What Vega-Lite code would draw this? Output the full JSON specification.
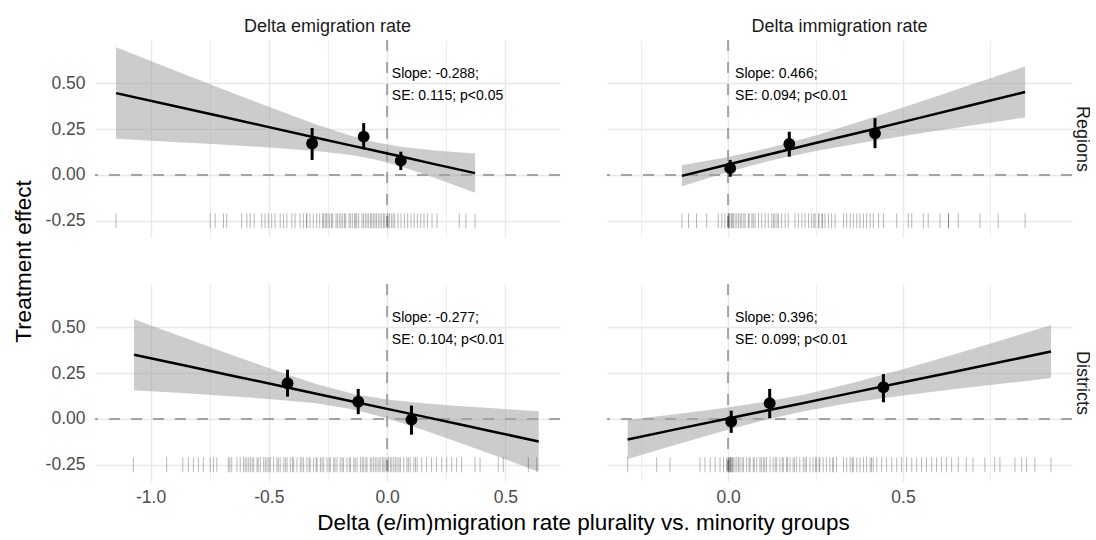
{
"$schema": "https://vega.github.io/schema/vega-lite/v6.json",
"padding": {"left": 12, "top": 18, "right": 0, "bottom": 2},
"datasets": {
"band": [
{"p":"ER","x":-1.146,"lo":0.197,"hi":0.697,"fit":0.447},
{"p":"ER","x":-0.9,"lo":0.180,"hi":0.572,"fit":0.376},
{"p":"ER","x":-0.7,"lo":0.166,"hi":0.471,"fit":0.319},
{"p":"ER","x":-0.5,"lo":0.150,"hi":0.372,"fit":0.261},
{"p":"ER","x":-0.3,"lo":0.131,"hi":0.276,"fit":0.203},
{"p":"ER","x":-0.15,"lo":0.109,"hi":0.212,"fit":0.160},
{"p":"ER","x":-0.055,"lo":0.086,"hi":0.180,"fit":0.133},
{"p":"ER","x":0.05,"lo":0.050,"hi":0.155,"fit":0.103},
{"p":"ER","x":0.2,"lo":-0.015,"hi":0.134,"fit":0.059},
{"p":"ER","x":0.372,"lo":-0.097,"hi":0.117,"fit":0.010},
{"p":"IR","x":-0.132,"lo":-0.062,"hi":0.053,"fit":-0.005},
{"p":"IR","x":0.0,"lo":0.016,"hi":0.098,"fit":0.057},
{"p":"IR","x":0.119,"lo":0.078,"hi":0.148,"fit":0.113},
{"p":"IR","x":0.25,"lo":0.131,"hi":0.216,"fit":0.174},
{"p":"IR","x":0.4,"lo":0.181,"hi":0.306,"fit":0.243},
{"p":"IR","x":0.55,"lo":0.227,"hi":0.400,"fit":0.313},
{"p":"IR","x":0.7,"lo":0.271,"hi":0.496,"fit":0.383},
{"p":"IR","x":0.849,"lo":0.314,"hi":0.592,"fit":0.453},
{"p":"ED","x":-1.07,"lo":0.157,"hi":0.545,"fit":0.351},
{"p":"ED","x":-0.85,"lo":0.140,"hi":0.441,"fit":0.291},
{"p":"ED","x":-0.65,"lo":0.123,"hi":0.347,"fit":0.235},
{"p":"ED","x":-0.45,"lo":0.104,"hi":0.255,"fit":0.180},
{"p":"ED","x":-0.3,"lo":0.085,"hi":0.191,"fit":0.138},
{"p":"ED","x":-0.141,"lo":0.052,"hi":0.136,"fit":0.094},
{"p":"ED","x":0.0,"lo":0.004,"hi":0.106,"fit":0.055},
{"p":"ED","x":0.15,"lo":-0.059,"hi":0.086,"fit":0.014},
{"p":"ED","x":0.3,"lo":-0.127,"hi":0.071,"fit":-0.028},
{"p":"ED","x":0.45,"lo":-0.197,"hi":0.058,"fit":-0.070},
{"p":"ED","x":0.641,"lo":-0.288,"hi":0.042,"fit":-0.123},
{"p":"ID","x":-0.287,"lo":-0.219,"hi":-0.005,"fit":-0.112},
{"p":"ID","x":-0.15,"lo":-0.141,"hi":0.026,"fit":-0.057},
{"p":"ID","x":0.0,"lo":-0.059,"hi":0.063,"fit":0.002},
{"p":"ID","x":0.1,"lo":-0.008,"hi":0.092,"fit":0.042},
{"p":"ID","x":0.213,"lo":0.041,"hi":0.131,"fit":0.086},
{"p":"ID","x":0.35,"lo":0.088,"hi":0.193,"fit":0.141},
{"p":"ID","x":0.5,"lo":0.128,"hi":0.272,"fit":0.200},
{"p":"ID","x":0.65,"lo":0.163,"hi":0.355,"fit":0.259},
{"p":"ID","x":0.8,"lo":0.196,"hi":0.441,"fit":0.319},
{"p":"ID","x":0.923,"lo":0.223,"hi":0.512,"fit":0.368}
],
"pts": [
{"p":"ER","x":-0.317,"y":0.172,"lo":0.082,"hi":0.256},
{"p":"ER","x":-0.099,"y":0.209,"lo":0.140,"hi":0.283},
{"p":"ER","x":0.058,"y":0.078,"lo":0.027,"hi":0.127},
{"p":"IR","x":0.006,"y":0.037,"lo":-0.010,"hi":0.082},
{"p":"IR","x":0.175,"y":0.169,"lo":0.100,"hi":0.236},
{"p":"IR","x":0.42,"y":0.227,"lo":0.146,"hi":0.310},
{"p":"ED","x":-0.421,"y":0.195,"lo":0.122,"hi":0.269},
{"p":"ED","x":-0.122,"y":0.094,"lo":0.026,"hi":0.164},
{"p":"ED","x":0.103,"y":-0.004,"lo":-0.086,"hi":0.073},
{"p":"ID","x":0.009,"y":-0.015,"lo":-0.076,"hi":0.045},
{"p":"ID","x":0.119,"y":0.086,"lo":0.004,"hi":0.164},
{"p":"ID","x":0.444,"y":0.173,"lo":0.091,"hi":0.245}
],
"notes": [
{"p":"ER","x":0.02,"y":0.551,"t":"Slope: -0.288;"},
{"p":"ER","x":0.02,"y":0.431,"t":"SE: 0.115; p<0.05"},
{"p":"IR","x":0.02,"y":0.551,"t":"Slope: 0.466;"},
{"p":"IR","x":0.02,"y":0.431,"t":"SE: 0.094; p<0.01"},
{"p":"ED","x":0.02,"y":0.551,"t":"Slope: -0.277;"},
{"p":"ED","x":0.02,"y":0.431,"t":"SE: 0.104; p<0.01"},
{"p":"ID","x":0.02,"y":0.551,"t":"Slope: 0.396;"},
{"p":"ID","x":0.02,"y":0.431,"t":"SE: 0.099; p<0.01"}
],
"rug": [
{"p":"ER","x":-1.146},{"p":"ER","x":-0.748},{"p":"ER","x":-0.727},{"p":"ER","x":-0.692},{"p":"ER","x":-0.678},{"p":"ER","x":-0.615},{"p":"ER","x":-0.593},{"p":"ER","x":-0.579},{"p":"ER","x":-0.562},{"p":"ER","x":-0.530},{"p":"ER","x":-0.516},{"p":"ER","x":-0.502},{"p":"ER","x":-0.488},{"p":"ER","x":-0.474},{"p":"ER","x":-0.452},{"p":"ER","x":-0.438},{"p":"ER","x":-0.424},{"p":"ER","x":-0.403},{"p":"ER","x":-0.389},{"p":"ER","x":-0.368},{"p":"ER","x":-0.354},{"p":"ER","x":-0.340},{"p":"ER","x":-0.340},{"p":"ER","x":-0.326},{"p":"ER","x":-0.312},{"p":"ER","x":-0.298},{"p":"ER","x":-0.285},{"p":"ER","x":-0.271},{"p":"ER","x":-0.271},{"p":"ER","x":-0.262},{"p":"ER","x":-0.257},{"p":"ER","x":-0.250},{"p":"ER","x":-0.243},{"p":"ER","x":-0.235},{"p":"ER","x":-0.230},{"p":"ER","x":-0.216},{"p":"ER","x":-0.210},{"p":"ER","x":-0.202},{"p":"ER","x":-0.195},{"p":"ER","x":-0.188},{"p":"ER","x":-0.180},{"p":"ER","x":-0.175},{"p":"ER","x":-0.161},{"p":"ER","x":-0.155},{"p":"ER","x":-0.147},{"p":"ER","x":-0.138},{"p":"ER","x":-0.133},{"p":"ER","x":-0.128},{"p":"ER","x":-0.120},{"p":"ER","x":-0.106},{"p":"ER","x":-0.100},{"p":"ER","x":-0.092},{"p":"ER","x":-0.085},{"p":"ER","x":-0.078},{"p":"ER","x":-0.070},{"p":"ER","x":-0.065},{"p":"ER","x":-0.058},{"p":"ER","x":-0.051},{"p":"ER","x":-0.045},{"p":"ER","x":-0.037},{"p":"ER","x":-0.030},{"p":"ER","x":-0.023},{"p":"ER","x":-0.015},{"p":"ER","x":-0.010},{"p":"ER","x":0.000},{"p":"ER","x":0.004},{"p":"ER","x":0.010},{"p":"ER","x":0.018},{"p":"ER","x":0.025},{"p":"ER","x":0.032},{"p":"ER","x":0.046},{"p":"ER","x":0.059},{"p":"ER","x":0.073},{"p":"ER","x":0.087},{"p":"ER","x":0.101},{"p":"ER","x":0.114},{"p":"ER","x":0.128},{"p":"ER","x":0.142},{"p":"ER","x":0.156},{"p":"ER","x":0.170},{"p":"ER","x":0.190},{"p":"ER","x":0.211},{"p":"ER","x":0.305},{"p":"ER","x":0.333},{"p":"ER","x":0.372},
{"p":"IR","x":-0.132},{"p":"IR","x":-0.113},{"p":"IR","x":-0.090},{"p":"IR","x":-0.061},{"p":"IR","x":-0.028},{"p":"IR","x":-0.018},{"p":"IR","x":-0.009},{"p":"IR","x":0.000},{"p":"IR","x":0.001},{"p":"IR","x":0.003},{"p":"IR","x":0.005},{"p":"IR","x":0.010},{"p":"IR","x":0.012},{"p":"IR","x":0.015},{"p":"IR","x":0.020},{"p":"IR","x":0.025},{"p":"IR","x":0.030},{"p":"IR","x":0.035},{"p":"IR","x":0.039},{"p":"IR","x":0.045},{"p":"IR","x":0.049},{"p":"IR","x":0.058},{"p":"IR","x":0.060},{"p":"IR","x":0.068},{"p":"IR","x":0.072},{"p":"IR","x":0.077},{"p":"IR","x":0.087},{"p":"IR","x":0.096},{"p":"IR","x":0.106},{"p":"IR","x":0.115},{"p":"IR","x":0.125},{"p":"IR","x":0.130},{"p":"IR","x":0.134},{"p":"IR","x":0.140},{"p":"IR","x":0.144},{"p":"IR","x":0.153},{"p":"IR","x":0.163},{"p":"IR","x":0.172},{"p":"IR","x":0.191},{"p":"IR","x":0.201},{"p":"IR","x":0.211},{"p":"IR","x":0.220},{"p":"IR","x":0.230},{"p":"IR","x":0.239},{"p":"IR","x":0.245},{"p":"IR","x":0.249},{"p":"IR","x":0.258},{"p":"IR","x":0.260},{"p":"IR","x":0.268},{"p":"IR","x":0.270},{"p":"IR","x":0.277},{"p":"IR","x":0.287},{"p":"IR","x":0.296},{"p":"IR","x":0.306},{"p":"IR","x":0.330},{"p":"IR","x":0.339},{"p":"IR","x":0.349},{"p":"IR","x":0.358},{"p":"IR","x":0.368},{"p":"IR","x":0.377},{"p":"IR","x":0.387},{"p":"IR","x":0.396},{"p":"IR","x":0.406},{"p":"IR","x":0.415},{"p":"IR","x":0.430},{"p":"IR","x":0.444},{"p":"IR","x":0.482},{"p":"IR","x":0.515},{"p":"IR","x":0.525},{"p":"IR","x":0.558},{"p":"IR","x":0.572},{"p":"IR","x":0.606},{"p":"IR","x":0.630},{"p":"IR","x":0.630},{"p":"IR","x":0.658},{"p":"IR","x":0.720},{"p":"IR","x":0.772},{"p":"IR","x":0.849},
{"p":"ED","x":-1.073},{"p":"ED","x":-0.932},{"p":"ED","x":-0.864},{"p":"ED","x":-0.840},{"p":"ED","x":-0.819},{"p":"ED","x":-0.798},{"p":"ED","x":-0.777},{"p":"ED","x":-0.748},{"p":"ED","x":-0.734},{"p":"ED","x":-0.720},{"p":"ED","x":-0.671},{"p":"ED","x":-0.665},{"p":"ED","x":-0.657},{"p":"ED","x":-0.635},{"p":"ED","x":-0.621},{"p":"ED","x":-0.607},{"p":"ED","x":-0.600},{"p":"ED","x":-0.593},{"p":"ED","x":-0.585},{"p":"ED","x":-0.578},{"p":"ED","x":-0.570},{"p":"ED","x":-0.564},{"p":"ED","x":-0.550},{"p":"ED","x":-0.545},{"p":"ED","x":-0.536},{"p":"ED","x":-0.522},{"p":"ED","x":-0.515},{"p":"ED","x":-0.508},{"p":"ED","x":-0.500},{"p":"ED","x":-0.494},{"p":"ED","x":-0.480},{"p":"ED","x":-0.466},{"p":"ED","x":-0.460},{"p":"ED","x":-0.452},{"p":"ED","x":-0.437},{"p":"ED","x":-0.430},{"p":"ED","x":-0.423},{"p":"ED","x":-0.409},{"p":"ED","x":-0.400},{"p":"ED","x":-0.395},{"p":"ED","x":-0.381},{"p":"ED","x":-0.367},{"p":"ED","x":-0.360},{"p":"ED","x":-0.353},{"p":"ED","x":-0.339},{"p":"ED","x":-0.330},{"p":"ED","x":-0.325},{"p":"ED","x":-0.311},{"p":"ED","x":-0.300},{"p":"ED","x":-0.296},{"p":"ED","x":-0.282},{"p":"ED","x":-0.275},{"p":"ED","x":-0.268},{"p":"ED","x":-0.254},{"p":"ED","x":-0.245},{"p":"ED","x":-0.240},{"p":"ED","x":-0.226},{"p":"ED","x":-0.220},{"p":"ED","x":-0.212},{"p":"ED","x":-0.198},{"p":"ED","x":-0.190},{"p":"ED","x":-0.184},{"p":"ED","x":-0.170},{"p":"ED","x":-0.160},{"p":"ED","x":-0.155},{"p":"ED","x":-0.141},{"p":"ED","x":-0.135},{"p":"ED","x":-0.127},{"p":"ED","x":-0.113},{"p":"ED","x":-0.105},{"p":"ED","x":-0.099},{"p":"ED","x":-0.090},{"p":"ED","x":-0.085},{"p":"ED","x":-0.071},{"p":"ED","x":-0.065},{"p":"ED","x":-0.057},{"p":"ED","x":-0.050},{"p":"ED","x":-0.043},{"p":"ED","x":-0.035},{"p":"ED","x":-0.029},{"p":"ED","x":-0.020},{"p":"ED","x":-0.014},{"p":"ED","x":-0.008},{"p":"ED","x":0.000},{"p":"ED","x":0.006},{"p":"ED","x":0.014},{"p":"ED","x":0.020},{"p":"ED","x":0.028},{"p":"ED","x":0.035},{"p":"ED","x":0.042},{"p":"ED","x":0.050},{"p":"ED","x":0.056},{"p":"ED","x":0.070},{"p":"ED","x":0.084},{"p":"ED","x":0.090},{"p":"ED","x":0.098},{"p":"ED","x":0.113},{"p":"ED","x":0.120},{"p":"ED","x":0.127},{"p":"ED","x":0.146},{"p":"ED","x":0.167},{"p":"ED","x":0.188},{"p":"ED","x":0.209},{"p":"ED","x":0.231},{"p":"ED","x":0.252},{"p":"ED","x":0.273},{"p":"ED","x":0.294},{"p":"ED","x":0.315},{"p":"ED","x":0.372},{"p":"ED","x":0.393},{"p":"ED","x":0.470},{"p":"ED","x":0.491},{"p":"ED","x":0.597},{"p":"ED","x":0.633},
{"p":"ID","x":-0.287},{"p":"ID","x":-0.204},{"p":"ID","x":-0.166},{"p":"ID","x":-0.080},{"p":"ID","x":-0.066},{"p":"ID","x":-0.051},{"p":"ID","x":-0.037},{"p":"ID","x":-0.023},{"p":"ID","x":-0.013},{"p":"ID","x":-0.004},{"p":"ID","x":0.000},{"p":"ID","x":0.002},{"p":"ID","x":0.003},{"p":"ID","x":0.005},{"p":"ID","x":0.007},{"p":"ID","x":0.008},{"p":"ID","x":0.011},{"p":"ID","x":0.012},{"p":"ID","x":0.015},{"p":"ID","x":0.020},{"p":"ID","x":0.025},{"p":"ID","x":0.030},{"p":"ID","x":0.034},{"p":"ID","x":0.040},{"p":"ID","x":0.044},{"p":"ID","x":0.053},{"p":"ID","x":0.060},{"p":"ID","x":0.063},{"p":"ID","x":0.072},{"p":"ID","x":0.075},{"p":"ID","x":0.082},{"p":"ID","x":0.091},{"p":"ID","x":0.095},{"p":"ID","x":0.101},{"p":"ID","x":0.105},{"p":"ID","x":0.110},{"p":"ID","x":0.120},{"p":"ID","x":0.129},{"p":"ID","x":0.135},{"p":"ID","x":0.139},{"p":"ID","x":0.148},{"p":"ID","x":0.155},{"p":"ID","x":0.158},{"p":"ID","x":0.167},{"p":"ID","x":0.170},{"p":"ID","x":0.177},{"p":"ID","x":0.186},{"p":"ID","x":0.190},{"p":"ID","x":0.196},{"p":"ID","x":0.205},{"p":"ID","x":0.215},{"p":"ID","x":0.220},{"p":"ID","x":0.224},{"p":"ID","x":0.234},{"p":"ID","x":0.243},{"p":"ID","x":0.250},{"p":"ID","x":0.253},{"p":"ID","x":0.260},{"p":"ID","x":0.262},{"p":"ID","x":0.272},{"p":"ID","x":0.281},{"p":"ID","x":0.291},{"p":"ID","x":0.300},{"p":"ID","x":0.300},{"p":"ID","x":0.310},{"p":"ID","x":0.330},{"p":"ID","x":0.339},{"p":"ID","x":0.349},{"p":"ID","x":0.355},{"p":"ID","x":0.358},{"p":"ID","x":0.368},{"p":"ID","x":0.377},{"p":"ID","x":0.387},{"p":"ID","x":0.396},{"p":"ID","x":0.406},{"p":"ID","x":0.410},{"p":"ID","x":0.415},{"p":"ID","x":0.425},{"p":"ID","x":0.439},{"p":"ID","x":0.453},{"p":"ID","x":0.468},{"p":"ID","x":0.482},{"p":"ID","x":0.496},{"p":"ID","x":0.510},{"p":"ID","x":0.525},{"p":"ID","x":0.539},{"p":"ID","x":0.553},{"p":"ID","x":0.567},{"p":"ID","x":0.582},{"p":"ID","x":0.596},{"p":"ID","x":0.610},{"p":"ID","x":0.624},{"p":"ID","x":0.639},{"p":"ID","x":0.658},{"p":"ID","x":0.681},{"p":"ID","x":0.700},{"p":"ID","x":0.734},{"p":"ID","x":0.762},{"p":"ID","x":0.777},{"p":"ID","x":0.820},{"p":"ID","x":0.839},{"p":"ID","x":0.853},{"p":"ID","x":0.877},{"p":"ID","x":0.923}
]
},
"columns": 2,
"spacing": 47,
"bounds": "flush",
"concat": [
{"width": 465, "height": 197,
 "title": {"text": "Delta emigration rate", "frame": "group", "anchor": "middle", "offset": 3},
 "layer": [
  {"data": {"name": "band"}, "transform": [{"filter": "datum.p === 'ER'"}],
   "mark": {"type": "area", "color": "#999999", "opacity": 0.5},
   "encoding": {
    "x": {"field": "x", "type": "quantitative", "scale": {"domain": [-1.235, 0.731], "nice": false, "zero": false}, "axis": {"values": [-1, -0.75, -0.5, -0.25, 0, 0.25, 0.5], "labels": false, "title": null, "gridWidth": {"condition": {"test": "abs(datum.value*2-round(datum.value*2))<0.001", "value": 1.5}, "value": 0.75}}},
    "y": {"field": "lo", "type": "quantitative", "scale": {"domain": [-0.339, 0.737], "nice": false, "zero": false}, "axis": {"values": [-0.25, -0.125, 0, 0.125, 0.25, 0.375, 0.5, 0.625], "labelExpr": "abs(datum.value*4-round(datum.value*4))<0.001 ? (datum.value<0?'-':'')+format(abs(datum.value),'.2f') : ''", "labelPadding": 10, "labelOverlap": false, "title": "Treatment effect", "titleY": 221, "titlePadding": 10, "gridWidth": {"condition": {"test": "abs(datum.value*4-round(datum.value*4))<0.001", "value": 1.5}, "value": 0.75}}},
    "y2": {"field": "hi"}}},
  {"data": {"values": [{"zero": 0}]}, "mark": {"type": "rule", "color": "#a3a3a3", "strokeWidth": 2, "strokeDash": [11, 11]},
   "encoding": {"x": {"field": "zero", "type": "quantitative", "scale": {"domain": [-1.235, 0.731], "nice": false, "zero": false}}}},
  {"data": {"values": [{"zero": 0}]}, "mark": {"type": "rule", "color": "#a3a3a3", "strokeWidth": 2, "strokeDash": [11, 11]},
   "encoding": {"y": {"field": "zero", "type": "quantitative", "scale": {"domain": [-0.339, 0.737], "nice": false, "zero": false}}}},
  {"data": {"name": "band"}, "transform": [{"filter": "datum.p === 'ER'"}],
   "mark": {"type": "line", "color": "#000000", "strokeWidth": 2.5},
   "encoding": {"x": {"field": "x", "type": "quantitative", "scale": {"domain": [-1.235, 0.731], "nice": false, "zero": false}}, "y": {"field": "fit", "type": "quantitative", "scale": {"domain": [-0.339, 0.737], "nice": false, "zero": false}}}},
  {"data": {"name": "rug"}, "transform": [{"filter": "datum.p === 'ER'"}],
   "mark": {"type": "tick", "orient": "vertical", "color": "#000000", "opacity": 0.28, "thickness": 1, "size": 15},
   "encoding": {"x": {"field": "x", "type": "quantitative", "scale": {"domain": [-1.235, 0.731], "nice": false, "zero": false}}, "y": {"datum": -0.25, "type": "quantitative", "scale": {"domain": [-0.339, 0.737], "nice": false, "zero": false}}}},
  {"data": {"name": "pts"}, "transform": [{"filter": "datum.p === 'ER'"}],
   "mark": {"type": "rule", "color": "#000000", "strokeWidth": 3},
   "encoding": {"x": {"field": "x", "type": "quantitative", "scale": {"domain": [-1.235, 0.731], "nice": false, "zero": false}}, "y": {"field": "lo", "type": "quantitative", "scale": {"domain": [-0.339, 0.737], "nice": false, "zero": false}}, "y2": {"field": "hi"}}},
  {"data": {"name": "pts"}, "transform": [{"filter": "datum.p === 'ER'"}],
   "mark": {"type": "circle", "color": "#000000", "opacity": 1, "size": 140},
   "encoding": {"x": {"field": "x", "type": "quantitative", "scale": {"domain": [-1.235, 0.731], "nice": false, "zero": false}}, "y": {"field": "y", "type": "quantitative", "scale": {"domain": [-0.339, 0.737], "nice": false, "zero": false}}}},
  {"data": {"name": "notes"}, "transform": [{"filter": "datum.p === 'ER'"}],
   "mark": {"type": "text", "align": "left", "baseline": "middle", "fontSize": 14, "font": "Liberation Sans", "color": "#000000"},
   "encoding": {"x": {"field": "x", "type": "quantitative", "scale": {"domain": [-1.235, 0.731], "nice": false, "zero": false}}, "y": {"field": "y", "type": "quantitative", "scale": {"domain": [-0.339, 0.737], "nice": false, "zero": false}}, "text": {"field": "t"}}}
 ]},
{"width": 465, "height": 197,
 "title": {"text": "Delta immigration rate", "frame": "group", "anchor": "middle", "offset": 3},
 "layer": [
  {"data": {"name": "band"}, "transform": [{"filter": "datum.p === 'IR'"}],
   "mark": {"type": "area", "color": "#999999", "opacity": 0.5},
   "encoding": {
    "x": {"field": "x", "type": "quantitative", "scale": {"domain": [-0.346, 0.983], "nice": false, "zero": false}, "axis": {"values": [-0.25, 0, 0.25, 0.5, 0.75], "labels": false, "title": null, "gridWidth": {"condition": {"test": "abs(datum.value*2-round(datum.value*2))<0.001", "value": 1.5}, "value": 0.75}}},
    "y": {"field": "lo", "type": "quantitative", "scale": {"domain": [-0.339, 0.737], "nice": false, "zero": false}, "axis": {"orient": "right", "values": [-0.25, -0.125, 0, 0.125, 0.25, 0.375, 0.5, 0.625], "labels": false, "title": "Regions", "titleAngle": 90, "titleFontSize": 18, "titleColor": "#1a1a1a", "titlePadding": 0, "gridWidth": {"condition": {"test": "abs(datum.value*4-round(datum.value*4))<0.001", "value": 1.5}, "value": 0.75}}},
    "y2": {"field": "hi"}}},
  {"data": {"values": [{"zero": 0}]}, "mark": {"type": "rule", "color": "#a3a3a3", "strokeWidth": 2, "strokeDash": [11, 11]},
   "encoding": {"x": {"field": "zero", "type": "quantitative", "scale": {"domain": [-0.346, 0.983], "nice": false, "zero": false}}}},
  {"data": {"values": [{"zero": 0}]}, "mark": {"type": "rule", "color": "#a3a3a3", "strokeWidth": 2, "strokeDash": [11, 11]},
   "encoding": {"y": {"field": "zero", "type": "quantitative", "scale": {"domain": [-0.339, 0.737], "nice": false, "zero": false}}}},
  {"data": {"name": "band"}, "transform": [{"filter": "datum.p === 'IR'"}],
   "mark": {"type": "line", "color": "#000000", "strokeWidth": 2.5},
   "encoding": {"x": {"field": "x", "type": "quantitative", "scale": {"domain": [-0.346, 0.983], "nice": false, "zero": false}}, "y": {"field": "fit", "type": "quantitative", "scale": {"domain": [-0.339, 0.737], "nice": false, "zero": false}}}},
  {"data": {"name": "rug"}, "transform": [{"filter": "datum.p === 'IR'"}],
   "mark": {"type": "tick", "orient": "vertical", "color": "#000000", "opacity": 0.28, "thickness": 1, "size": 15},
   "encoding": {"x": {"field": "x", "type": "quantitative", "scale": {"domain": [-0.346, 0.983], "nice": false, "zero": false}}, "y": {"datum": -0.25, "type": "quantitative", "scale": {"domain": [-0.339, 0.737], "nice": false, "zero": false}}}},
  {"data": {"name": "pts"}, "transform": [{"filter": "datum.p === 'IR'"}],
   "mark": {"type": "rule", "color": "#000000", "strokeWidth": 3},
   "encoding": {"x": {"field": "x", "type": "quantitative", "scale": {"domain": [-0.346, 0.983], "nice": false, "zero": false}}, "y": {"field": "lo", "type": "quantitative", "scale": {"domain": [-0.339, 0.737], "nice": false, "zero": false}}, "y2": {"field": "hi"}}},
  {"data": {"name": "pts"}, "transform": [{"filter": "datum.p === 'IR'"}],
   "mark": {"type": "circle", "color": "#000000", "opacity": 1, "size": 140},
   "encoding": {"x": {"field": "x", "type": "quantitative", "scale": {"domain": [-0.346, 0.983], "nice": false, "zero": false}}, "y": {"field": "y", "type": "quantitative", "scale": {"domain": [-0.339, 0.737], "nice": false, "zero": false}}}},
  {"data": {"name": "notes"}, "transform": [{"filter": "datum.p === 'IR'"}],
   "mark": {"type": "text", "align": "left", "baseline": "middle", "fontSize": 14, "font": "Liberation Sans", "color": "#000000"},
   "encoding": {"x": {"field": "x", "type": "quantitative", "scale": {"domain": [-0.346, 0.983], "nice": false, "zero": false}}, "y": {"field": "y", "type": "quantitative", "scale": {"domain": [-0.339, 0.737], "nice": false, "zero": false}}, "text": {"field": "t"}}}
 ]},
{"width": 465, "height": 197,
 "layer": [
  {"data": {"name": "band"}, "transform": [{"filter": "datum.p === 'ED'"}],
   "mark": {"type": "area", "color": "#999999", "opacity": 0.5},
   "encoding": {
    "x": {"field": "x", "type": "quantitative", "scale": {"domain": [-1.235, 0.731], "nice": false, "zero": false}, "axis": {"values": [-1, -0.75, -0.5, -0.25, 0, 0.25, 0.5], "labelExpr": "abs(datum.value*2-round(datum.value*2))<0.001 ? (datum.value<0?'-':'')+format(abs(datum.value),'.1f') : ''", "labelPadding": 7, "labelOverlap": false, "labelFlush": false, "title": "Delta (e/im)migration rate plurality vs. minority groups", "titleX": 488, "titlePadding": 6, "gridWidth": {"condition": {"test": "abs(datum.value*2-round(datum.value*2))<0.001", "value": 1.5}, "value": 0.75}}},
    "y": {"field": "lo", "type": "quantitative", "scale": {"domain": [-0.339, 0.737], "nice": false, "zero": false}, "axis": {"values": [-0.25, -0.125, 0, 0.125, 0.25, 0.375, 0.5, 0.625], "labelExpr": "abs(datum.value*4-round(datum.value*4))<0.001 ? (datum.value<0?'-':'')+format(abs(datum.value),'.2f') : ''", "labelPadding": 10, "labelOverlap": false, "title": null, "gridWidth": {"condition": {"test": "abs(datum.value*4-round(datum.value*4))<0.001", "value": 1.5}, "value": 0.75}}},
    "y2": {"field": "hi"}}},
  {"data": {"values": [{"zero": 0}]}, "mark": {"type": "rule", "color": "#a3a3a3", "strokeWidth": 2, "strokeDash": [11, 11]},
   "encoding": {"x": {"field": "zero", "type": "quantitative", "scale": {"domain": [-1.235, 0.731], "nice": false, "zero": false}}}},
  {"data": {"values": [{"zero": 0}]}, "mark": {"type": "rule", "color": "#a3a3a3", "strokeWidth": 2, "strokeDash": [11, 11]},
   "encoding": {"y": {"field": "zero", "type": "quantitative", "scale": {"domain": [-0.339, 0.737], "nice": false, "zero": false}}}},
  {"data": {"name": "band"}, "transform": [{"filter": "datum.p === 'ED'"}],
   "mark": {"type": "line", "color": "#000000", "strokeWidth": 2.5},
   "encoding": {"x": {"field": "x", "type": "quantitative", "scale": {"domain": [-1.235, 0.731], "nice": false, "zero": false}}, "y": {"field": "fit", "type": "quantitative", "scale": {"domain": [-0.339, 0.737], "nice": false, "zero": false}}}},
  {"data": {"name": "rug"}, "transform": [{"filter": "datum.p === 'ED'"}],
   "mark": {"type": "tick", "orient": "vertical", "color": "#000000", "opacity": 0.28, "thickness": 1, "size": 15},
   "encoding": {"x": {"field": "x", "type": "quantitative", "scale": {"domain": [-1.235, 0.731], "nice": false, "zero": false}}, "y": {"datum": -0.25, "type": "quantitative", "scale": {"domain": [-0.339, 0.737], "nice": false, "zero": false}}}},
  {"data": {"name": "pts"}, "transform": [{"filter": "datum.p === 'ED'"}],
   "mark": {"type": "rule", "color": "#000000", "strokeWidth": 3},
   "encoding": {"x": {"field": "x", "type": "quantitative", "scale": {"domain": [-1.235, 0.731], "nice": false, "zero": false}}, "y": {"field": "lo", "type": "quantitative", "scale": {"domain": [-0.339, 0.737], "nice": false, "zero": false}}, "y2": {"field": "hi"}}},
  {"data": {"name": "pts"}, "transform": [{"filter": "datum.p === 'ED'"}],
   "mark": {"type": "circle", "color": "#000000", "opacity": 1, "size": 140},
   "encoding": {"x": {"field": "x", "type": "quantitative", "scale": {"domain": [-1.235, 0.731], "nice": false, "zero": false}}, "y": {"field": "y", "type": "quantitative", "scale": {"domain": [-0.339, 0.737], "nice": false, "zero": false}}}},
  {"data": {"name": "notes"}, "transform": [{"filter": "datum.p === 'ED'"}],
   "mark": {"type": "text", "align": "left", "baseline": "middle", "fontSize": 14, "font": "Liberation Sans", "color": "#000000"},
   "encoding": {"x": {"field": "x", "type": "quantitative", "scale": {"domain": [-1.235, 0.731], "nice": false, "zero": false}}, "y": {"field": "y", "type": "quantitative", "scale": {"domain": [-0.339, 0.737], "nice": false, "zero": false}}, "text": {"field": "t"}}}
 ]},
{"width": 465, "height": 197,
 "layer": [
  {"data": {"name": "band"}, "transform": [{"filter": "datum.p === 'ID'"}],
   "mark": {"type": "area", "color": "#999999", "opacity": 0.5},
   "encoding": {
    "x": {"field": "x", "type": "quantitative", "scale": {"domain": [-0.346, 0.983], "nice": false, "zero": false}, "axis": {"values": [-0.25, 0, 0.25, 0.5, 0.75], "labelExpr": "abs(datum.value*2-round(datum.value*2))<0.001 ? (datum.value<0?'-':'')+format(abs(datum.value),'.1f') : ''", "labelPadding": 7, "labelOverlap": false, "labelFlush": false, "title": null, "gridWidth": {"condition": {"test": "abs(datum.value*2-round(datum.value*2))<0.001", "value": 1.5}, "value": 0.75}}},
    "y": {"field": "lo", "type": "quantitative", "scale": {"domain": [-0.339, 0.737], "nice": false, "zero": false}, "axis": {"orient": "right", "values": [-0.25, -0.125, 0, 0.125, 0.25, 0.375, 0.5, 0.625], "labels": false, "title": "Districts", "titleAngle": 90, "titleFontSize": 18, "titleColor": "#1a1a1a", "titlePadding": 0, "gridWidth": {"condition": {"test": "abs(datum.value*4-round(datum.value*4))<0.001", "value": 1.5}, "value": 0.75}}},
    "y2": {"field": "hi"}}},
  {"data": {"values": [{"zero": 0}]}, "mark": {"type": "rule", "color": "#a3a3a3", "strokeWidth": 2, "strokeDash": [11, 11]},
   "encoding": {"x": {"field": "zero", "type": "quantitative", "scale": {"domain": [-0.346, 0.983], "nice": false, "zero": false}}}},
  {"data": {"values": [{"zero": 0}]}, "mark": {"type": "rule", "color": "#a3a3a3", "strokeWidth": 2, "strokeDash": [11, 11]},
   "encoding": {"y": {"field": "zero", "type": "quantitative", "scale": {"domain": [-0.339, 0.737], "nice": false, "zero": false}}}},
  {"data": {"name": "band"}, "transform": [{"filter": "datum.p === 'ID'"}],
   "mark": {"type": "line", "color": "#000000", "strokeWidth": 2.5},
   "encoding": {"x": {"field": "x", "type": "quantitative", "scale": {"domain": [-0.346, 0.983], "nice": false, "zero": false}}, "y": {"field": "fit", "type": "quantitative", "scale": {"domain": [-0.339, 0.737], "nice": false, "zero": false}}}},
  {"data": {"name": "rug"}, "transform": [{"filter": "datum.p === 'ID'"}],
   "mark": {"type": "tick", "orient": "vertical", "color": "#000000", "opacity": 0.28, "thickness": 1, "size": 15},
   "encoding": {"x": {"field": "x", "type": "quantitative", "scale": {"domain": [-0.346, 0.983], "nice": false, "zero": false}}, "y": {"datum": -0.25, "type": "quantitative", "scale": {"domain": [-0.339, 0.737], "nice": false, "zero": false}}}},
  {"data": {"name": "pts"}, "transform": [{"filter": "datum.p === 'ID'"}],
   "mark": {"type": "rule", "color": "#000000", "strokeWidth": 3},
   "encoding": {"x": {"field": "x", "type": "quantitative", "scale": {"domain": [-0.346, 0.983], "nice": false, "zero": false}}, "y": {"field": "lo", "type": "quantitative", "scale": {"domain": [-0.339, 0.737], "nice": false, "zero": false}}, "y2": {"field": "hi"}}},
  {"data": {"name": "pts"}, "transform": [{"filter": "datum.p === 'ID'"}],
   "mark": {"type": "circle", "color": "#000000", "opacity": 1, "size": 140},
   "encoding": {"x": {"field": "x", "type": "quantitative", "scale": {"domain": [-0.346, 0.983], "nice": false, "zero": false}}, "y": {"field": "y", "type": "quantitative", "scale": {"domain": [-0.339, 0.737], "nice": false, "zero": false}}}},
  {"data": {"name": "notes"}, "transform": [{"filter": "datum.p === 'ID'"}],
   "mark": {"type": "text", "align": "left", "baseline": "middle", "fontSize": 14, "font": "Liberation Sans", "color": "#000000"},
   "encoding": {"x": {"field": "x", "type": "quantitative", "scale": {"domain": [-0.346, 0.983], "nice": false, "zero": false}}, "y": {"field": "y", "type": "quantitative", "scale": {"domain": [-0.339, 0.737], "nice": false, "zero": false}}, "text": {"field": "t"}}}
 ]}
],
"config": {
 "font": "Liberation Sans",
 "background": "#ffffff",
 "view": {"stroke": null},
 "axis": {"domain": false, "ticks": false, "gridColor": "#e8e8e8", "labelFont": "Liberation Sans", "labelFontSize": 17.5, "labelColor": "#4d4d4d", "titleFont": "Liberation Sans", "titleFontWeight": "normal", "titleFontSize": 22.5, "titleColor": "#000000"},
 "title": {"font": "Liberation Sans", "fontSize": 18, "fontWeight": "normal", "color": "#1a1a1a"}
}
}
